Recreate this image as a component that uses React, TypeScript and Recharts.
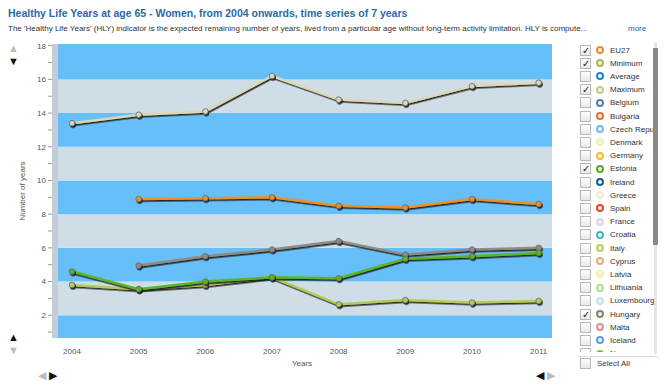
import React from "react";
import {
  LineChart,
  Line,
  XAxis,
  YAxis,
  CartesianGrid,
  ReferenceArea,
} from "recharts";

const years = [2004, 2005, 2006, 2007, 2008, 2009, 2010, 2011];
const maximum = [13.4, 13.9, 14.1, 16.2, 14.8, 14.6, 15.6, 15.8];
const eu27 = [null, 8.9, 8.95, 9.0, 8.5, 8.4, 8.9, 8.6];
const hungary = [null, 4.95, 5.5, 5.9, 6.4, 5.6, 5.9, 6.0];
const estonia = [4.6, 3.55, 4.0, 4.25, 4.2, 5.35, 5.5, 5.7];
const minimum = [3.8, 3.55, 3.8, 4.25, 2.65, 2.9, 2.75, 2.85];

const yTicks = [1, 2, 3, 4, 5, 6, 7, 8, 9, 10, 11, 12, 13, 14, 15, 16, 17, 18];
const gridValues = [2, 4, 6, 8, 10, 12, 14, 16, 18];
const bands = [
  { from: 0, to: 2, fill: "#66bff8" },
  { from: 2, to: 4, fill: "#cfdde7" },
  { from: 4, to: 6, fill: "#66bff8" },
  { from: 6, to: 8, fill: "#cfdde7" },
  { from: 8, to: 10, fill: "#66bff8" },
  { from: 10, to: 12, fill: "#cfdde7" },
  { from: 12, to: 14, fill: "#66bff8" },
  { from: 14, to: 16, fill: "#cfdde7" },
  { from: 16, to: 18.2, fill: "#66bff8" },
];

const legendItems = [
  { name: "EU27", color: "#e8902a", checked: true },
  { name: "Minimum", color: "#a8b850", checked: true },
  { name: "Average", color: "#1e88c8", checked: false },
  { name: "Maximum", color: "#c8c890", checked: true },
  { name: "Belgium", color: "#5a80b0", checked: false },
  { name: "Bulgaria", color: "#e0703a", checked: false },
  { name: "Czech Republic", color: "#70c0e8", checked: false },
  { name: "Denmark", color: "#f0f0b0", checked: false },
  { name: "Germany", color: "#f0c030", checked: false },
  { name: "Estonia", color: "#5aa82a", checked: true },
  { name: "Ireland", color: "#1a5a90", checked: false },
  { name: "Greece", color: "#f0f0d0", checked: false },
  { name: "Spain", color: "#d05020", checked: false },
  { name: "France", color: "#d8d8e8", checked: false },
  { name: "Croatia", color: "#40b8b8", checked: false },
  { name: "Italy", color: "#b8d060", checked: false },
  { name: "Cyprus", color: "#e0b080", checked: false },
  { name: "Latvia", color: "#f8f0a0", checked: false },
  { name: "Lithuania", color: "#b0e090", checked: false },
  { name: "Luxembourg", color: "#c0e8e8", checked: false },
  { name: "Hungary", color: "#8a8070", checked: true },
  { name: "Malta", color: "#e09090", checked: false },
  { name: "Iceland", color: "#5aa0e0", checked: false },
  { name: "Norway", color: "#70c040", checked: false },
];

const data = years.map((y, i) => ({
  year: y,
  maximum: maximum[i],
  eu27: eu27[i],
  hungary: hungary[i],
  estonia: estonia[i],
  minimum: minimum[i],
}));

const font = "'Liberation Sans', Arial, sans-serif";

const series = [
  { key: "maximum", color: "#dcd8b4" },
  { key: "eu27", color: "#e8922c" },
  { key: "hungary", color: "#908c84" },
  { key: "minimum", color: "#b4cc5c" },
  { key: "estonia", color: "#5cb42a" },
];

function Arrow({ ch, color, x, y }: { ch: string; color: string; x: number; y: number }) {
  return (
    <div style={{ position: "absolute", left: x, top: y, fontSize: 11, color, lineHeight: "11px", height: 11 }}>
      {ch}
    </div>
  );
}

export default function App() {
  return (
    <div
      style={{
        position: "absolute",
        left: 0,
        top: 0,
        width: 667,
        height: 391,
        background: "#fff",
        fontFamily: font,
        overflow: "hidden",
      }}
    >
      <div style={{ position: "absolute", left: 8, top: 7, fontSize: 10.5, fontWeight: "bold", color: "#2a6aa8" }}>
        Healthy Life Years at age 65 - Women, from 2004 onwards, time series of 7 years
      </div>
      <div style={{ position: "absolute", left: 8, top: 24, fontSize: 8, color: "#333" }}>
        The 'Healthy Life Years' (HLY) indicator is the expected remaining number of years, lived from a particular age without long-term activity limitation. HLY is compute...
      </div>
      <div style={{ position: "absolute", left: 628, top: 24, fontSize: 8, color: "#2a6aa8" }}>more</div>

      <div style={{ position: "absolute", left: 0, top: 0 }}>
        <LineChart width={560} height={391} data={data} margin={{ top: 44, right: 8, bottom: 25, left: 12 }}>
          <defs>
            <filter id="shadow" x="-10%" y="-50%" width="120%" height="200%">
              <feDropShadow dx="1" dy="1.6" stdDeviation="0.6" floodColor="#1a1a1a" floodOpacity="0.95" />
            </filter>
          </defs>
          {bands.map((b) => (
            <ReferenceArea key={b.from} y1={b.from} y2={b.to} x1={2003.7} x2={2011.2} fill={b.fill} fillOpacity={1} stroke="none" ifOverflow="hidden" />
          ))}
          <ReferenceArea x1={2003.7} x2={2003.79} fill="#c4ccd8" fillOpacity={1} stroke="none" ifOverflow="hidden" />
          <CartesianGrid stroke="#ffffff" strokeWidth={1} horizontalValues={gridValues} verticalValues={years} />
          <XAxis
            dataKey="year"
            type="number"
            domain={[2003.7, 2011.2]}
            ticks={years}
            axisLine={false}
            tickLine={false}
            height={28}
            tick={{ fontSize: 8, fill: "#555", fontFamily: font }}
            tickMargin={4}
            label={{ value: "Years", position: "insideBottom", offset: 0, fontSize: 8, fill: "#555", fontFamily: font }}
          />
          <YAxis
            type="number"
            domain={[0.65, 18.1]}
            ticks={yTicks}
            interval={0}
            width={40}
            axisLine={false}
            tickSize={4}
            tickLine={{ stroke: "#999" }}
            tickFormatter={(v: number) => (v % 2 === 0 ? String(v) : "")}
            tick={{ fontSize: 8, fill: "#555", fontFamily: font }}
            label={{ value: "Number of years", angle: -90, position: "insideLeft", offset: 10, fontSize: 8, fill: "#555", fontFamily: font, style: { textAnchor: "middle" } }}
          />
          {series.map((s) => (
            <Line
              key={s.key}
              dataKey={s.key}
              stroke={s.color}
              strokeWidth={2.5}
              filter="url(#shadow)"
              dot={{ r: 2.8, fill: s.color, stroke: "#666", strokeWidth: 0.8 }}
              activeDot={false}
              connectNulls={false}
              isAnimationActive={false}
            />
          ))}
        </LineChart>
      </div>

      <Arrow ch="▲" color="#bbb" x={8} y={43} />
      <Arrow ch="▼" color="#111" x={8} y={56} />
      <Arrow ch="▲" color="#111" x={8} y={332} />
      <Arrow ch="▼" color="#bbb" x={8} y={345} />
      <Arrow ch="◀" color="#bbb" x={38} y={370} />
      <Arrow ch="▶" color="#111" x={49} y={370} />
      <Arrow ch="◀" color="#111" x={536} y={370} />
      <Arrow ch="▶" color="#bbb" x={547} y={370} />

      <div style={{ position: "absolute", left: 576, top: 42, width: 78, height: 310, overflow: "hidden" }}>
        {legendItems.map((it, i) => (
          <div
            key={it.name}
            style={{ position: "absolute", left: 0, top: 2 + i * 13.2, height: 12, display: "flex", alignItems: "center", whiteSpace: "nowrap" }}
          >
            <div
              style={{
                width: 9,
                height: 9,
                border: "1px solid #b8b8b8",
                background: "linear-gradient(#fff, #e8e8e8)",
                marginLeft: 4,
                position: "relative",
                fontSize: 10,
                lineHeight: "9px",
                color: "#222",
                textAlign: "center",
              }}
            >
              {it.checked ? "✓" : ""}
            </div>
            <div
              style={{
                width: 4,
                height: 4,
                borderRadius: "50%",
                border: `2.2px solid ${it.color}`,
                background: "#f4f4f4",
                marginLeft: 5,
              }}
            />
            <span style={{ marginLeft: 6, fontSize: 8, color: "#333" }}>{it.name}</span>
          </div>
        ))}
      </div>
      <div style={{ position: "absolute", left: 654, top: 42, width: 3, height: 312, background: "#e4e4e4" }} />
      <div style={{ position: "absolute", left: 653, top: 48, width: 5, height: 197, background: "#8a8a8a" }} />
      <div style={{ position: "absolute", left: 578, top: 356, width: 80, height: 1, background: "#ddd" }} />
      <div style={{ position: "absolute", left: 580, top: 357, display: "flex", alignItems: "center", height: 12 }}>
        <div style={{ width: 9, height: 9, border: "1px solid #b8b8b8", background: "linear-gradient(#fff, #e8e8e8)" }} />
        <span style={{ marginLeft: 6, fontSize: 8, color: "#333" }}>Select All</span>
      </div>
    </div>
  );
}
